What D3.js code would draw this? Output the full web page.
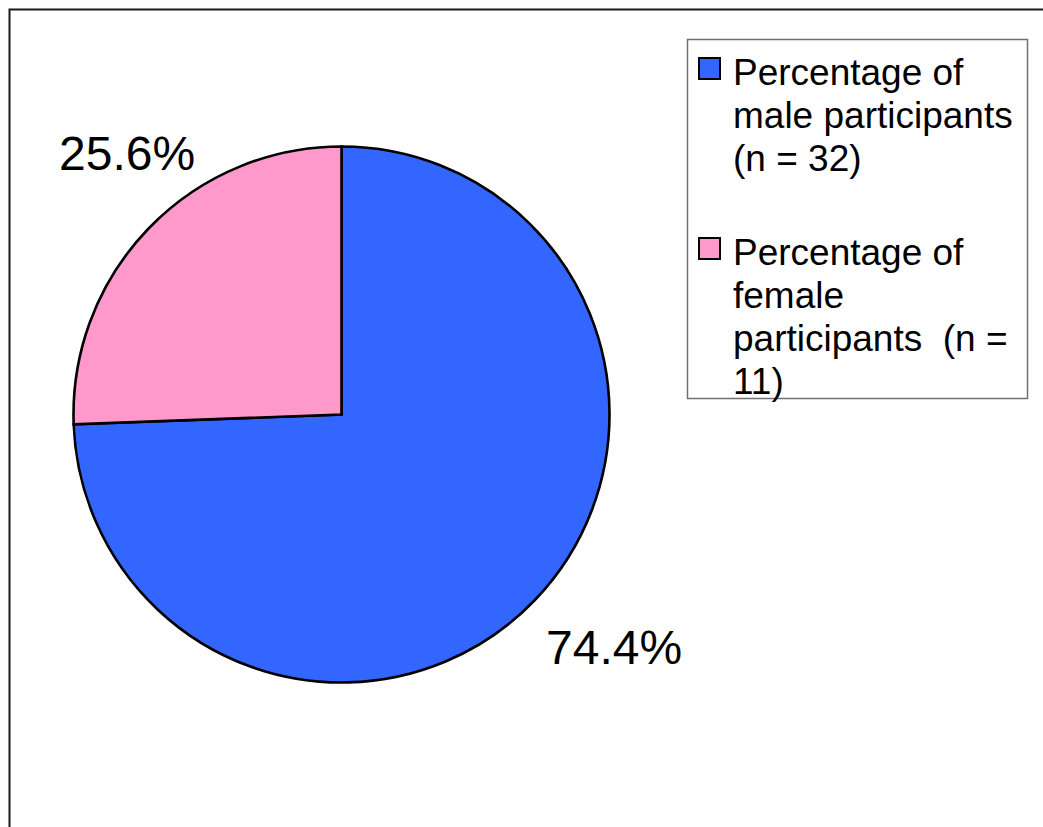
<!DOCTYPE html>
<html>
<head>
<meta charset="utf-8">
<script src="https://cdn.jsdelivr.net/npm/d3@7"></script>
<style>
  html, body { margin: 0; padding: 0; background: #fff; }
  svg { display: block; font-family: "Liberation Sans", Arial, sans-serif; }
</style>
</head>
<body>
<svg id="chart" width="1043" height="827"></svg>
<script>
// Participants by gender
const categories = ["male", "female"];
const counts = [32, 11];
const percentLabels = ["74.4%", "25.6%"];
const legendLines = [
  ["Percentage of", "male participants", "(n = 32)"],
  ["Percentage of", "female", "participants  (n =", "11)"]
];
const colors = ["#3366FF", "#FF99CC"];

const svg = d3.select("#chart");

// outer frame (right and bottom edges run past the canvas)
svg.append("rect")
  .attr("x", 9.5).attr("y", 9.5)
  .attr("width", 1100).attr("height", 900)
  .attr("fill", "#fff")
  .attr("stroke", "#1a1a1a").attr("stroke-width", 2);

const cx = 341.5, cy = 414.5, r = 268;

const pie = d3.pie().sort(null).value(d => d)
  .startAngle(0).endAngle(2 * Math.PI);
const arcs = pie(counts);
const arc = d3.arc().innerRadius(0).outerRadius(r);

const g = svg.append("g").attr("transform", `translate(${cx},${cy})`);
g.selectAll("path.slice")
  .data(arcs)
  .join("path")
  .attr("class", "slice")
  .attr("d", arc)
  .attr("fill", (d, i) => colors[i])
  .attr("stroke", "#000")
  .attr("stroke-width", 2.6)
  .attr("stroke-linejoin", "miter");

// value labels placed outside the pie
const labelPos = [
  { x: 546, y: 664 },
  { x: 59, y: 170 }
];
svg.selectAll("text.pct")
  .data(arcs)
  .join("text")
  .attr("class", "pct")
  .attr("x", (d, i) => labelPos[i].x)
  .attr("y", (d, i) => labelPos[i].y)
  .attr("font-size", 48)
  .attr("fill", "#000")
  .text((d, i) => percentLabels[i]);

// legend
const legend = svg.append("g");
legend.append("rect")
  .attr("x", 687.5).attr("y", 39.5)
  .attr("width", 340).attr("height", 359)
  .attr("fill", "#fff")
  .attr("stroke", "#707070").attr("stroke-width", 1.5);

const lineH = 43;
const entryTop = [85, 265];
categories.forEach((c, i) => {
  legend.append("rect")
    .attr("x", 699).attr("y", entryTop[i] - 27)
    .attr("width", 21).attr("height", 21)
    .attr("fill", colors[i])
    .attr("stroke", "#000").attr("stroke-width", 2);
  legend.append("text")
    .attr("font-size", 37)
    .attr("fill", "#000")
    .attr("xml:space", "preserve")
    .selectAll("tspan")
    .data(legendLines[i])
    .join("tspan")
    .attr("x", 733)
    .attr("y", (d, j) => entryTop[i] + j * lineH)
    .text(d => d);
});
</script>
</body>
</html>
